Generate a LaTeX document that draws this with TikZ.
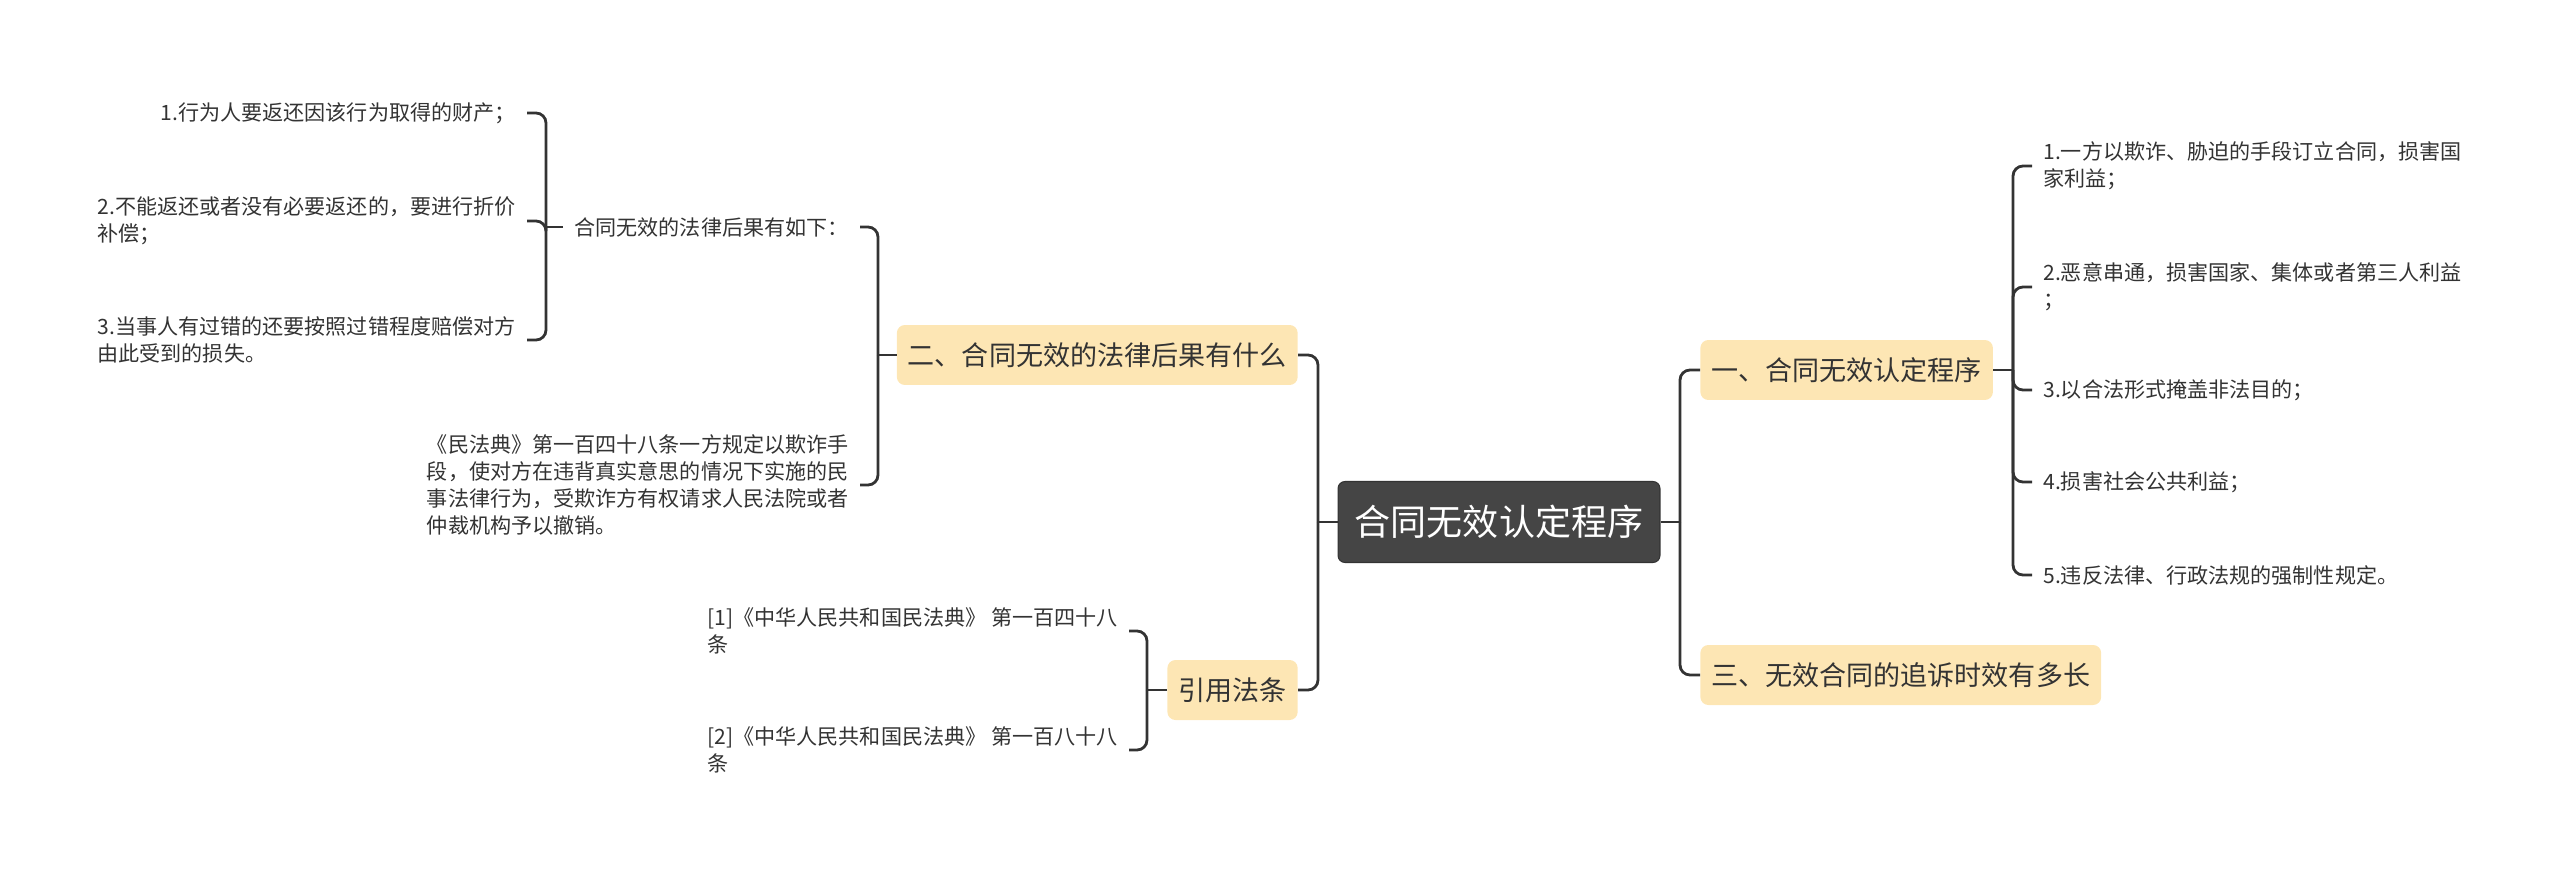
\documentclass[tikz,border=0pt]{standalone}
\usepackage{fontspec}
\setmainfont{Noto Sans CJK SC}
\definecolor{rootgray}{HTML}{454545}
\definecolor{topicbg}{HTML}{FDE6B4}
\definecolor{linegray}{HTML}{333333}
\tikzstyle{rootbox}=[draw=linegray,fill=rootgray,rounded corners=0.14cm,text=white,font=\fontsize{20.5}{24}\selectfont,minimum width=6.44cm,minimum height=1.62cm,line width=0.6pt]
\tikzstyle{topic}=[fill=topicbg,rounded corners=0.16cm,text=linegray,font=\fontsize{15.4}{18}\selectfont,minimum height=1.2cm,inner xsep=0.22cm]
\tikzstyle{leaf}=[text=linegray,font=\fontsize{12}{15.2}\selectfont,align=left,inner xsep=0.22cm,inner ysep=2pt]
\tikzstyle{link}=[draw=linegray,line width=1.6pt,rounded corners=0.2cm]

\begin{document}
\begin{tikzpicture}[x=0.02cm, y=-0.02cm]
            \useasboundingbox (0,0) rectangle (2560,876);
            \node[rootbox] (root) at (1499,522) {合同无效认定程序};
            \node[topic, anchor=west] (t1) at (1700,370) {一、合同无效认定程序};
            \node[topic, anchor=west] (t3) at (1700,675) {三、无效合同的追诉时效有多长};
            \node[topic, anchor=east] (t2) at (1298,355) {二、合同无效的法律后果有什么};
            \node[topic, anchor=east] (t4) at (1298,690) {引用法条};
            \node[leaf, anchor=west] (p1) at (2032,166) {1.一方以欺诈、胁迫的手段订立合同，损害国\\家利益；};
            \node[leaf, anchor=west] (p2) at (2032,287) {2.恶意串通，损害国家、集体或者第三人利益\\；};
            \node[leaf, anchor=west] (p3) at (2032,390) {3.以合法形式掩盖非法目的；};
            \node[leaf, anchor=west] (p4) at (2032,482) {4.损害社会公共利益；};
            \node[leaf, anchor=west] (p5) at (2032,575) {5.违反法律、行政法规的强制性规定。};
            \node[leaf, anchor=east] (q1) at (860,227) {合同无效的法律后果有如下：};
            \node[leaf, anchor=east] (q2) at (860,485) {《民法典》第一百四十八条一方规定以欺诈手\\段，使对方在违背真实意思的情况下实施的民\\事法律行为，受欺诈方有权请求人民法院或者\\仲裁机构予以撤销。};
            \node[leaf, anchor=east] (c1) at (527,113) {1.行为人要返还因该行为取得的财产；};
            \node[leaf, anchor=east] (c2) at (527,221) {2.不能返还或者没有必要返还的，要进行折价\\补偿；};
            \node[leaf, anchor=east] (c3) at (527,340) {3.当事人有过错的还要按照过错程度赔偿对方\\由此受到的损失。};
            \node[leaf, anchor=east] (r1) at (1129,631) {[1]《中华人民共和国民法典》 第一百四十八\\条};
            \node[leaf, anchor=east] (r2) at (1129,750) {[2]《中华人民共和国民法典》 第一百八十八\\条};
            \coordinate (rj) at (1680,522);
            \coordinate (lj) at (1318,522);
            \coordinate (j1) at (2013,370);
            \coordinate (j2) at (878,355);
            \coordinate (j3) at (546,227);
            \coordinate (j4) at (1147,690);
            \draw[link] (root.east) -- (rj);
            \draw[link] (rj) |- (t1.west);
            \draw[link] (rj) |- (t3.west);
            \draw[link] (root.west) -- (lj);
            \draw[link] (lj) |- (t2.east);
            \draw[link] (lj) |- (t4.east);
            \draw[link] (t1.east) -- (j1);
            \draw[link] (j1) |- (p1.west);
            \draw[link] (j1) |- (p2.west);
            \draw[link] (j1) |- (p3.west);
            \draw[link] (j1) |- (p4.west);
            \draw[link] (j1) |- (p5.west);
            \draw[link] (t2.west) -- (j2);
            \draw[link] (j2) |- (q1.east);
            \draw[link] (j2) |- (q2.east);
            \draw[link] (q1.west) -- (j3);
            \draw[link] (j3) |- (c1.east);
            \draw[link] (j3) |- (c2.east);
            \draw[link] (j3) |- (c3.east);
            \draw[link] (t4.west) -- (j4);
            \draw[link] (j4) |- (r1.east);
            \draw[link] (j4) |- (r2.east);
        \end{tikzpicture}
\end{document}
